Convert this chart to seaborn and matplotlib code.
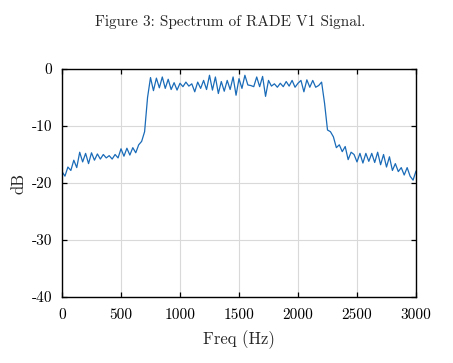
import numpy as np
import pandas as pd
import seaborn as sns
import matplotlib
matplotlib.use('Agg')
import matplotlib.pyplot as plt

# spectrum, 25 Hz steps
freq_hz = list(range(0, 3001, 25))
level_db = [
    -18.0, -18.8, -17.2, -17.8, -16.0, -17.3, -14.6, -16.3, -14.8, -16.6,
    -14.7, -16.0, -14.9, -15.8, -15.0, -15.6, -15.2, -15.8, -15.0, -15.6,
    -14.0, -15.3, -13.9, -15.1, -13.8, -14.7, -13.3, -12.7, -11.0, -5.0,
    -1.5, -3.8, -1.6, -3.3, -1.4, -3.4, -1.8, -3.6, -2.4, -3.7,
    -2.5, -3.1, -2.3, -3.0, -2.6, -4.0, -2.3, -3.4, -2.0, -3.6,
    -1.1, -3.7, -1.4, -4.3, -2.2, -3.9, -2.0, -3.6, -1.4, -4.6,
    -1.7, -3.4, -1.1, -2.8, -2.9, -3.1, -1.4, -3.1, -1.3, -4.8,
    -2.0, -3.0, -2.6, -3.2, -2.5, -3.1, -2.2, -3.0, -2.0, -3.2,
    -2.5, -2.0, -4.0, -1.9, -3.2, -2.0, -3.2, -2.9, -2.3, -6.0,
    -10.7, -11.0, -11.9, -13.8, -13.3, -14.5, -13.6, -15.9, -14.6, -15.0,
    -16.3, -14.8, -16.5, -14.8, -16.2, -14.8, -16.4, -14.6, -16.8, -15.0,
    -17.2, -15.4, -17.8, -16.6, -18.0, -17.3, -18.6, -17.3, -18.8, -19.5,
    -17.9,
]
xticks = [0, 500, 1000, 1500, 2000, 2500, 3000]
yticks = [-40, -30, -20, -10, 0]

df = pd.DataFrame({'freq': freq_hz, 'db': level_db})

sns.set_style('whitegrid')
plt.rcParams['font.family'] = ['cmr10', 'DejaVu Serif']
plt.rcParams['axes.unicode_minus'] = False
plt.rcParams['mathtext.fontset'] = 'cm'
fontsize = 11

fig = plt.figure(figsize=(4.53, 3.63), dpi=100)
ax = fig.add_axes([62 / 453, 66 / 363, 354 / 453, 228 / 363])

sns.lineplot(data=df, x='freq', y='db', ax=ax, color='#1a6bb8', linewidth=0.9)

ax.set_xlim(0, 3000)
ax.set_ylim(-40, 0)
ax.set_xticks(xticks)
ax.set_xticklabels([str(t) for t in xticks], fontsize=fontsize)
ax.set_yticks(yticks)
ax.set_yticklabels([str(t) for t in yticks], fontsize=fontsize)
ax.grid(True, color='#d9d9d9', linewidth=0.8)
for s in ax.spines.values():
    s.set_color('black')
    s.set_linewidth(1.0)
ax.tick_params(axis='both', which='both', direction='in', length=3.5, width=0.9,
               top=True, right=True, bottom=True, left=True, colors='black')
ax.tick_params(axis='x', pad=8)
ax.tick_params(axis='y', pad=7)

ax.set_xlabel('Freq (Hz)', fontsize=fontsize + 1, labelpad=6)
ax.set_ylabel('dB', fontsize=fontsize + 1, labelpad=4)

fig.text(0.508, 0.94, 'Figure 3: Spectrum of RADE V1 Signal.', ha='center', va='center',
         fontsize=fontsize)

plt.savefig('out.png', dpi=100)
